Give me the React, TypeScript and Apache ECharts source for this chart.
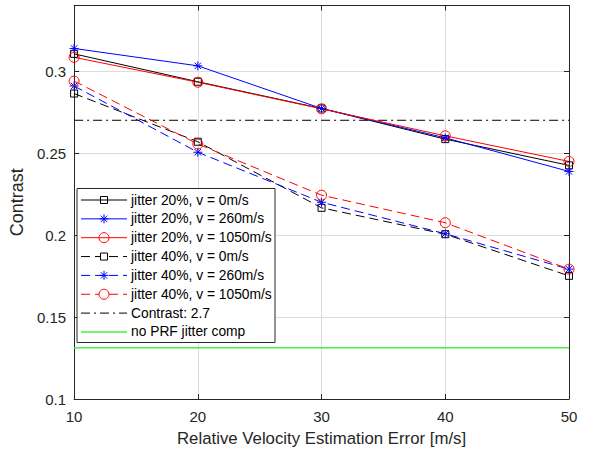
import React, { useEffect, useRef } from "react";
import * as echarts from "echarts";

const xValues = [10, 20, 30, 40, 50];
const j20v0 = [0.3105, 0.2935, 0.2772, 0.2585, 0.2425];
const j20v260 = [0.3138, 0.3032, 0.2772, 0.2593, 0.2388];
const j20v1050 = [0.3084, 0.2932, 0.2770, 0.2605, 0.2449];
const j40v0 = [0.2863, 0.2569, 0.2166, 0.2005, 0.1751];
const j40v260 = [0.2909, 0.2505, 0.2200, 0.2008, 0.1792];
const j40v1050 = [0.2939, 0.2555, 0.2243, 0.2075, 0.1792];
const contrastLevel = 0.27;
const noCompLevel = 0.1313;
const yTicks = [0.1, 0.15, 0.2, 0.25, 0.3];

const names = [
  "jitter 20%, v = 0m/s",
  "jitter 20%, v = 260m/s",
  "jitter 20%, v = 1050m/s",
  "jitter 40%, v = 0m/s",
  "jitter 40%, v = 260m/s",
  "jitter 40%, v = 1050m/s",
  "Contrast: 2.7",
  "no PRF jitter comp",
];

const STAR = "path://M0,-5L0,5M-5,0L5,0M-3.6,-3.6L3.6,3.6M-3.6,3.6L3.6,-3.6";
const DASH = [9, 5];
const DASHDOT = [9, 4, 2, 4];
const GREEN = "#44f044";

type Spec = { color: string; mark: "rect" | "star" | "circle" | "none"; dash: any };
const specs: Spec[] = [
  { color: "#000000", mark: "rect", dash: "solid" },
  { color: "#0000ff", mark: "star", dash: "solid" },
  { color: "#ff0000", mark: "circle", dash: "solid" },
  { color: "#000000", mark: "rect", dash: DASH },
  { color: "#0000ff", mark: "star", dash: DASH },
  { color: "#ff0000", mark: "circle", dash: DASH },
  { color: "#000000", mark: "none", dash: DASHDOT },
  { color: GREEN, mark: "none", dash: "solid" },
];

export default function App() {
  const ref = useRef<HTMLDivElement>(null);
  useEffect(() => {
    const chart = echarts.init(ref.current!, undefined, { renderer: "svg" });
    const font = "Liberation Sans, Arial, sans-serif";
    const pts = (ys: number[]) => xValues.map((x, i) => [x, ys[i]]);
    const symOf = (m: string) => (m === "rect" ? "rect" : m === "star" ? STAR : "circle");
    const sizeOf = (m: string) => (m === "rect" ? 7 : m === "star" ? 9 : 10);
    const dataSets = [j20v0, j20v260, j20v1050, j40v0, j40v260, j40v1050];
    const series: any[] = dataSets.map((ys, i) => ({
      name: names[i],
      type: "line",
      data: pts(ys),
      symbol: symOf(specs[i].mark),
      symbolSize: sizeOf(specs[i].mark),
      showSymbol: true,
      clip: false,
      lineStyle: { color: specs[i].color, width: 1, type: specs[i].dash },
      itemStyle: { color: "transparent", borderColor: specs[i].color, borderWidth: 1 },
      emphasis: { disabled: true },
      z: 3,
    }));
    series.push(
      {
        name: names[6],
        type: "line",
        data: [
          [xValues[0], contrastLevel],
          [xValues[xValues.length - 1], contrastLevel],
        ],
        symbol: "none",
        lineStyle: { color: "#000", width: 1, type: DASHDOT },
        z: 2,
      },
      {
        name: names[7],
        type: "line",
        data: [
          [xValues[0], noCompLevel],
          [xValues[xValues.length - 1], noCompLevel],
        ],
        symbol: "none",
        lineStyle: { color: GREEN, width: 1.5 },
        z: 2,
      }
    );

    // custom legend
    const lx = 77, ly = 188.5, lw = 198, lh = 154;
    const row0 = 200, step = 18.85;
    const x1 = 81, x2 = 127, xc = 104, tx = 131;
    const Z = 100;
    const legendEls: any[] = [
      {
        type: "rect",
        z: Z,
        z2: 0,
        shape: { x: lx, y: ly, width: lw, height: lh },
        style: { fill: "#fff", stroke: "#262626", lineWidth: 1 },
      },
    ];
    specs.forEach((s, i) => {
      const y = row0 + i * step;
      legendEls.push({
        type: "line",
        z: Z,
        z2: 1,
        shape: { x1, y1: y, x2, y2: y },
        style: {
          stroke: s.color,
          lineWidth: s.color === GREEN ? 1.5 : 1,
          lineDash: Array.isArray(s.dash) ? s.dash : null,
        },
      });
      if (s.mark === "rect") {
        legendEls.push({
          type: "rect",
          z: Z,
          z2: 2,
          shape: { x: xc - 3.5, y: y - 3.5, width: 7, height: 7 },
          style: { fill: Array.isArray(s.dash) ? "#fff" : "none", stroke: s.color, lineWidth: 1 },
        });
      } else if (s.mark === "circle") {
        legendEls.push({
          type: "circle",
          z: Z,
          z2: 2,
          shape: { cx: xc, cy: y, r: 5 },
          style: { fill: Array.isArray(s.dash) ? "#fff" : "none", stroke: s.color, lineWidth: 1 },
        });
      } else if (s.mark === "star") {
        const r = 4.5, d = 3.2;
        [
          [0, -r, 0, r],
          [-r, 0, r, 0],
          [-d, -d, d, d],
          [-d, d, d, -d],
        ].forEach(([a, b, c, e]) =>
          legendEls.push({
            type: "line",
            z: Z,
            z2: 2,
            shape: { x1: xc + a, y1: y + b, x2: xc + c, y2: y + e },
            style: { stroke: s.color, lineWidth: 1 },
          })
        );
      }
      legendEls.push({
        type: "text",
        z: Z,
        z2: 3,
        x: tx,
        y,
        style: {
          text: names[i],
          fill: "#000",
          font: `13.8px ${font}`,
          verticalAlign: "middle",
        },
      });
    });

    const axisCol = "#262626";
    chart.setOption({
      animation: false,
      backgroundColor: "#fff",
      grid: { left: 70, right: 22, top: 5.5, bottom: 52, show: false },
      xAxis: [
        {
          type: "value",
          min: 10,
          max: 50,
          interval: 10,
          position: "bottom",
          name: "Relative Velocity Estimation Error [m/s]",
          nameLocation: "middle",
          nameGap: 31,
          nameTextStyle: { fontFamily: font, fontSize: 16.8, color: axisCol },
          axisLine: { show: true, lineStyle: { color: axisCol } },
          axisTick: { show: true, inside: true, length: 5, lineStyle: { color: axisCol } },
          axisLabel: { fontFamily: font, fontSize: 15, color: axisCol, margin: 10 },
          splitLine: { show: true, lineStyle: { color: "#dcdcdc", width: 1 } },
        },
        {
          type: "value",
          min: 10,
          max: 50,
          interval: 10,
          position: "top",
          axisLine: { show: true, lineStyle: { color: axisCol } },
          axisTick: { show: true, inside: true, length: 5, lineStyle: { color: axisCol } },
          axisLabel: { show: false },
          splitLine: { show: false },
        },
      ],
      yAxis: [
        {
          type: "value",
          min: 0.1,
          max: 0.34,
          interval: 0.05,
          position: "left",
          name: "Contrast",
          nameLocation: "middle",
          nameGap: 41,
          nameTextStyle: { fontFamily: font, fontSize: 18, color: axisCol },
          axisLine: { show: true, lineStyle: { color: axisCol } },
          axisTick: { show: true, inside: true, length: 5, lineStyle: { color: axisCol } },
          axisLabel: {
            fontFamily: font,
            fontSize: 15,
            color: axisCol,
            margin: 8,
            showMaxLabel: false,
            formatter: (v: number) => {
              const t = yTicks.find((k) => Math.abs(k - v) < 1e-9);
              return t === undefined ? "" : String(t);
            },
          },
          splitLine: { show: true, lineStyle: { color: "#dcdcdc", width: 1 } },
        },
        {
          type: "value",
          min: 0.1,
          max: 0.34,
          interval: 0.05,
          position: "right",
          axisLine: { show: true, lineStyle: { color: axisCol } },
          axisTick: { show: true, inside: true, length: 5, lineStyle: { color: axisCol } },
          axisLabel: { show: false },
          splitLine: { show: false },
        },
      ],
      graphic: { elements: legendEls },
      series,
    });
    return () => chart.dispose();
  }, []);
  return (
    <div
      ref={ref}
      style={{ position: "fixed", left: 0, top: 0, width: 591, height: 452 }}
    />
  );
}
